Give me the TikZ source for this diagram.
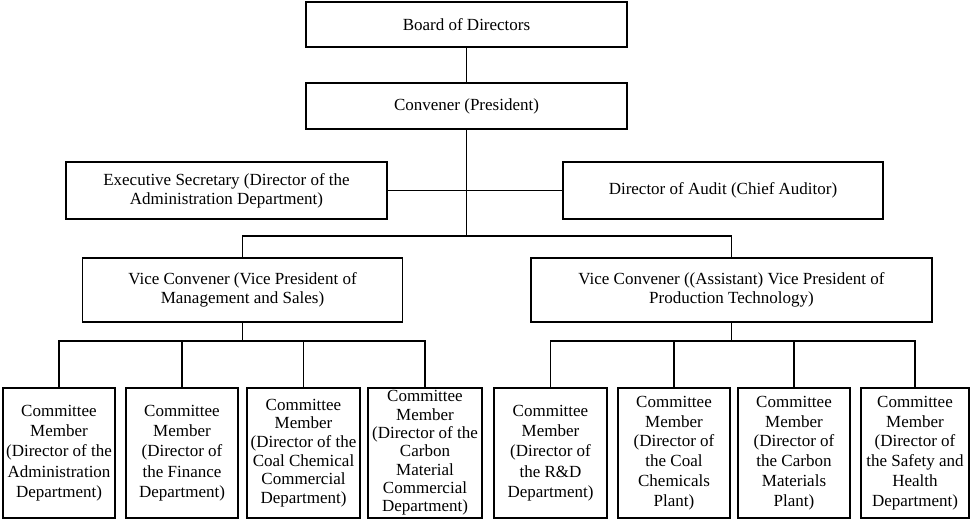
\documentclass[tikz,border=0pt]{standalone}
\usepackage{fontspec}
\setmainfont{Liberation Serif}
\begin{document}
\begin{tikzpicture}[x=1pt,y=-1pt,
  box/.style={draw, line width=1.7pt, rectangle, inner sep=0pt, align=center,
    font=\fontsize{17}{19}\selectfont},
  membox/.style={box, minimum width=112pt, minimum height=130pt},
  ln/.style={line width=1.7pt}]
\useasboundingbox (0,0) rectangle (970,519);
\node[box, minimum width=321pt, minimum height=45pt] (board) at (466.5,24.5) {Board of Directors};
\node[box, minimum width=321pt, minimum height=46pt] (conv) at (466.5,106) {Convener (President)};
\node[box, minimum width=321pt, minimum height=57pt] (exec) at (226.5,190.5) {Executive Secretary (Director of the\\Administration Department)};
\node[box, minimum width=320pt, minimum height=57pt] (audit) at (723,190.5) {Director of Audit (Chief Auditor)};
\node[box, minimum width=320pt, minimum height=64pt] (vl) at (242.5,290) {Vice Convener (Vice President of\\Management and Sales)};
\node[box, minimum width=401pt, minimum height=64pt] (vr) at (731.5,290) {Vice Convener ((Assistant) Vice President of\\Production Technology)};
\node[membox, font=\fontsize{17}{20.3}\selectfont] (b1) at (59,453) {Committee\\Member\\(Director of the\\Administration\\Department)};
\node[membox, font=\fontsize{17}{20.3}\selectfont] (b2) at (182,453) {Committee\\Member\\(Director of\\the Finance\\Department)};
\node[membox, minimum width=113pt, font=\fontsize{17}{18.7}\selectfont] (b3) at (303.5,453) {Committee\\Member\\(Director of the\\Coal Chemical\\Commercial\\Department)};
\node[membox, minimum width=114pt, font=\fontsize{17}{18.3}\selectfont] (b4) at (425,453) {Committee\\Member\\(Director of the\\Carbon\\Material\\Commercial\\Department)};
\node[membox, minimum width=113pt, font=\fontsize{17}{20.3}\selectfont] (b5) at (550.5,453) {Committee\\Member\\(Director of\\the R\&D\\Department)};
\node[membox, font=\fontsize{17}{19.7}\selectfont] (b6) at (674,453) {Committee\\Member\\(Director of\\the Coal\\Chemicals\\Plant)};
\node[membox, font=\fontsize{17}{19.7}\selectfont] (b7) at (794,453) {Committee\\Member\\(Director of\\the Carbon\\Materials\\Plant)};
\node[membox, minimum width=108pt, font=\fontsize{17}{19.7}\selectfont] (b8) at (915,453) {Committee\\Member\\(Director of\\the Safety and\\Health\\Department)};
\coordinate (j) at (466.5,236);
\draw[ln] (board) -- (conv);
\draw[ln] (conv) -- (j);
\draw[ln] (exec) -- (audit);
\draw[ln] (vl.north) |- (j) -| (vr.north);
\draw[ln] (vl.south) -- ++(0,18) coordinate (bl);
\draw[ln] (vr.south) -- ++(0,18) coordinate (br);
\foreach \b in {b1,b2,b3,b4} \draw[ln] (bl) -| (\b.north);
\foreach \b in {b5,b6,b7,b8} \draw[ln] (br) -| (\b.north);
\end{tikzpicture}
\end{document}
